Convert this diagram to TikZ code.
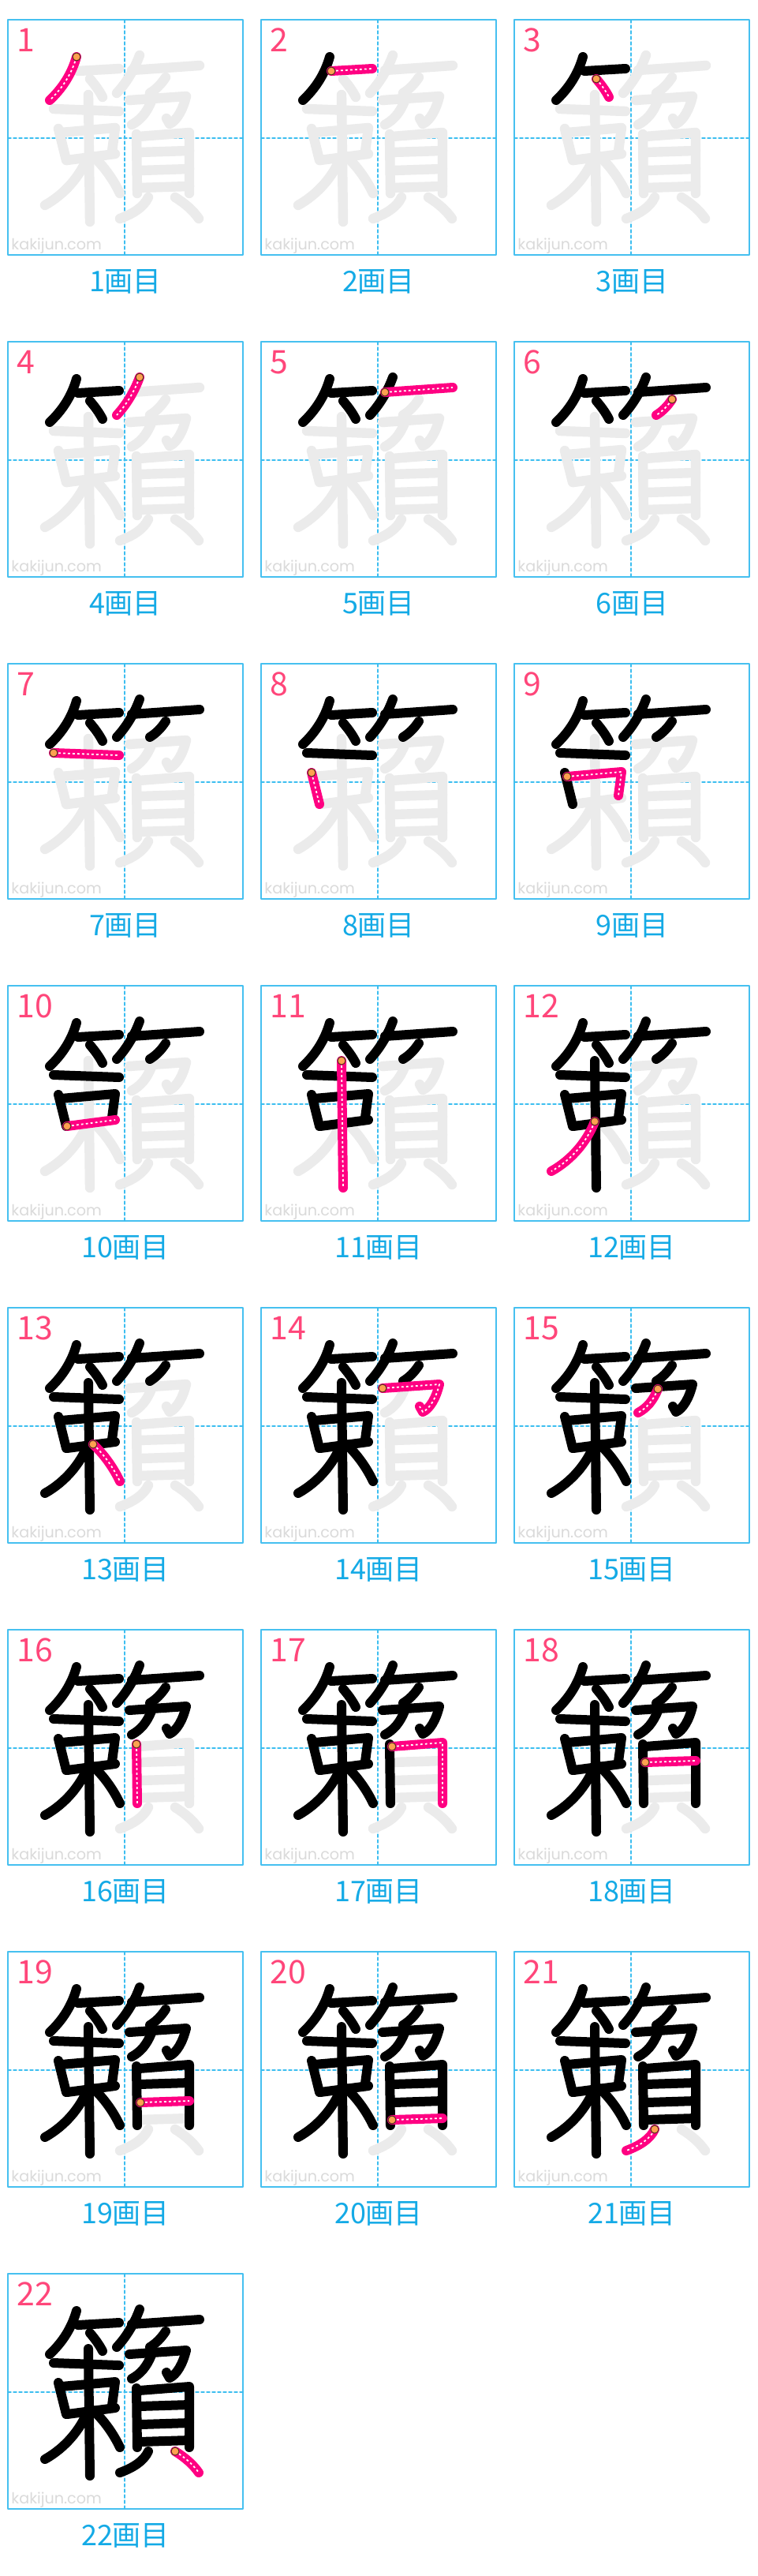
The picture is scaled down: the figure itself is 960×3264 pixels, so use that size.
\documentclass[tikz,border=0pt]{standalone}
\usepackage{fontspec}
\newfontfamily\cjkfont{Noto Sans CJK JP}
\newfontfamily\wmfont{Poppins}
\definecolor{frameblue}{RGB}{70,192,240}
\definecolor{gridblue}{RGB}{60,190,240}
\definecolor{numpink}{RGB}{255,70,122}
\definecolor{strokepink}{RGB}{255,0,130}
\definecolor{dotorange}{RGB}{255,160,80}
\definecolor{dotedge}{RGB}{80,50,30}
\definecolor{labblue}{RGB}{20,170,230}
\definecolor{ghost}{RGB}{235,235,235}
\definecolor{wmgray}{RGB}{218,218,218}
\newcommand\defstroke[3]{%
  \expandafter\def\csname st#1\endcsname{(#2)}%
  \expandafter\def\csname sk#1\endcsname{(#2) #3}}
\defstroke{1}{87,47}{.. controls (81,68) and (70,86) .. (53,102)}
\defstroke{2}{89,65}{-- (141,62)}
\defstroke{3}{104,75}{.. controls (110,82) and (116,90) .. (120,98)}
\defstroke{4}{167,45}{.. controls (160,64) and (150,80) .. (138,93)}
\defstroke{5}{157,64}{-- (243,58)}
\defstroke{6}{200,73}{.. controls (194,82) and (188,88) .. (180,93)}
\defstroke{7}{58,113}{-- (141,116)}
\defstroke{8}{64,138}{-- (74,178)}
\defstroke{9}{67,143}{-- (136,137) -- (132,167)}
\defstroke{10}{75,178}{-- (136,170)}
\defstroke{11}{102,95}{-- (104,256)}
\defstroke{12}{102,172}{.. controls (92,198) and (72,221) .. (47,235)}
\defstroke{13}{108,173}{.. controls (122,186) and (134,203) .. (142,220)}
\defstroke{14}{154,102}{-- (226,97) .. controls (222,114) and (214,128) .. (205,132) -- (201,125)}
\defstroke{15}{182,103}{.. controls (176,118) and (168,127) .. (157,133)}
\defstroke{16}{163,145}{-- (164,220)}
\defstroke{17}{166,148}{-- (230,143) -- (230,220)}
\defstroke{18}{166,168}{-- (230,166)}
\defstroke{19}{168,191}{-- (230,189)}
\defstroke{20}{166,213}{-- (230,211)}
\defstroke{21}{178,225}{.. controls (172,238) and (158,246) .. (142,252)}
\defstroke{22}{212,225}{.. controls (225,233) and (235,242) .. (242,252)}
\begin{document}
\begin{tikzpicture}[x=0.5pt,y=-0.5pt,line cap=round,line join=round,
  panelframe/.style={draw=frameblue,line width=0.75pt},
  centreline/.style={draw=gridblue,line width=0.7pt,dash pattern=on 2pt off 1.5pt},
  ghoststroke/.style={draw=ghost,line width=6.2pt},
  donestroke/.style={draw=black,line width=6pt},
  nowstroke/.style={draw=strokepink,line width=6pt},
  nowdash/.style={draw=white,line width=0.9pt,line cap=butt,dash pattern=on 1.4pt off 1.6pt},
  startdot/.style={fill=dotorange,draw=dotedge,line width=0.5pt},
  numtext/.style={anchor=west,inner sep=0pt,text=numpink,font=\cjkfont\fontsize{20.5}{20.5}\selectfont},
  labtext/.style={inner sep=0pt,text=labblue,font=\cjkfont\fontsize{18}{18}\selectfont},
  wmtext/.style={anchor=west,inner sep=0pt,text=wmgray,font=\wmfont\fontsize{9.6}{9.6}\selectfont}]
\useasboundingbox[fill=white] (0,0) rectangle (960,3264);
\foreach \n in {1,...,22}{
  \pgfmathtruncatemacro\col{mod(\n-1,3)}
  \pgfmathtruncatemacro\row{div(\n-1,3)}
  \pgfmathsetmacro\xo{10+321*\col}
  \pgfmathsetmacro\yo{25+408*\row}
  \begin{scope}[shift={(\xo,\yo)}]
    \path[panelframe] (0,0) rectangle (298,298);
    \path[centreline] (148,0) -- (148,298);
    \path[centreline] (0,150) -- (298,150);
    \node[wmtext] (wm\n) at (4,287) {kakijun.com};
    \foreach \k in {1,...,22}{
      \ifnum\k>\n\relax
        \expandafter\let\expandafter\curpath\csname sk\k\endcsname
        \path[ghoststroke] \curpath;
      \fi}
    \foreach \k in {1,...,22}{
      \ifnum\k<\n\relax
        \expandafter\let\expandafter\curpath\csname sk\k\endcsname
        \path[donestroke] \curpath;
      \fi}
    \expandafter\let\expandafter\curpath\csname sk\n\endcsname
    \expandafter\let\expandafter\curstart\csname st\n\endcsname
    \path[nowstroke] \curpath;
    \path[nowdash] \curpath;
    \path[startdot] \curstart circle (5);
    \node[numtext] (num\n) at (11,26) {\n};
    \node[labtext] (lab\n) at (149,332) {{\n}画目};
  \end{scope}
}
\end{tikzpicture}
\end{document}
